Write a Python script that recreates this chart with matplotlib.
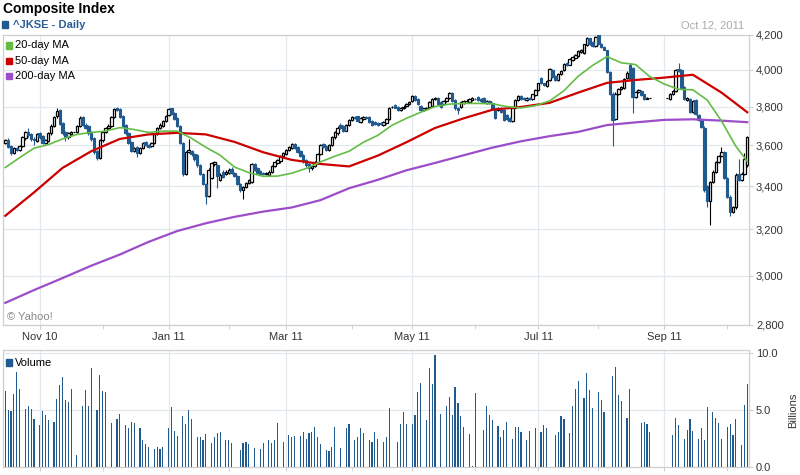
import numpy as np
import pandas as pd
import matplotlib
matplotlib.use('Agg')
import matplotlib.pyplot as plt
from matplotlib.ticker import FixedLocator, FuncFormatter, NullLocator

plt.rcParams['font.family'] = ['Liberation Sans', 'DejaVu Sans']

nan = float('nan')

# trading slots shown on the chart (Oct 14 2010 .. Oct 12 2011)
days = pd.bdate_range('2010-10-14', '2011-10-12')

opens = [
    3612, 3625, 3595, 3560, 3585, 3578, 3595, 3635, 3668, 3655,
    3630, 3622, 3660, 3645, 3612, 3620, 3660, 3700, 3748, 3780,
    3715, 3665, 3640, 3655, 3665, 3665, 3700, 3745, 3705, 3700,
    3665, 3635, 3570, 3535, 3625, 3665, 3690, 3700, 3745, 3790,
    3785, 3750, 3705, 3660, 3615, 3570, 3590, 3560, 3585, 3615,
    3600, 3595, 3610, 3655, 3690, 3700, 3725, 3755, 3790, 3765,
    3740, 3700, 3610, 3460, 3565, 3570, 3555, 3550, 3500, 3460,
    3410, 3355, 3440, 3505, 3500, 3430, 3470, 3460, 3465, 3483,
    3465, 3450, 3410, 3380, 3395, 3415, 3420, 3505, 3485, 3475,
    3465, 3460, 3455, 3470, 3495, 3510, 3520, 3545, 3555, 3575,
    3588, 3605, 3590, 3570, 3550, 3525, 3505, 3485, 3495, 3510,
    3555, 3605, 3595, 3575, 3600, 3640, 3660, 3705, 3700, 3675,
    3705, 3730, 3745, 3748, 3720, 3735, 3745, 3745, 3725, 3720,
    3715, 3715, 3705, 3715, 3735, 3798, 3810, 3800, 3780, 3790,
    3805, 3815, 3830, 3855, 3840, 3805, 3780, 3785, 3800, 3805,
    3840, 3845, 3825, 3815, 3830, 3845, 3875, 3835, 3795, 3800,
    3820, 3830, 3825, 3835, 3842, 3850, 3840, 3845, 3820, 3830,
    3820, 3790, 3780, 3795, 3780, 3755, 3740, 3725, 3795, 3835,
    3855, 3845, 3835, 3845, 3840, 3860, 3890, 3955, 3925, 3910,
    3945, 4000, 3965, 3945, 3975, 4000, 4040, 4030, 4055, 4065,
    4080, 4100, 4095, 4140, 4180, 4160, 4135, 4200, 4150, 4130,
    4110, 3990, 3870, 3735, 3870, 3895, 3900, 3955, 4030, 4010,
    3850, 3880, 3885, 3865, 3842, 3845, nan, nan, nan, nan,
    nan, 3845, 3842, 3868, 3885, 4005, 4000, 3905, 3835, 3840,
    3770, 3835, 3755, 3730, 3690, 3400, 3330, 3420, 3470, 3515,
    3545, 3565, 3440, 3350, 3280, 3300, 3460, 3430, 3460, 3500,
]
highs = [
    3632, 3635, 3600, 3592, 3592, 3600, 3648, 3672, 3690, 3660,
    3640, 3662, 3668, 3650, 3632, 3665, 3708, 3752, 3790, 3785,
    3720, 3670, 3668, 3672, 3668, 3705, 3748, 3752, 3712, 3705,
    3670, 3640, 3575, 3630, 3672, 3695, 3708, 3752, 3792, 3798,
    3790, 3755, 3710, 3665, 3620, 3592, 3595, 3590, 3618, 3622,
    3608, 3615, 3660, 3695, 3712, 3730, 3756, 3792, 3795, 3770,
    3745, 3705, 3615, 3572, 3630, 3578, 3560, 3556, 3505, 3465,
    3415, 3485, 3515, 3522, 3505, 3462, 3478, 3476, 3486, 3490,
    3470, 3455, 3415, 3400, 3420, 3436, 3510, 3512, 3490, 3480,
    3470, 3470, 3476, 3500, 3520, 3530, 3550, 3566, 3580, 3596,
    3612, 3610, 3596, 3575, 3555, 3530, 3510, 3500, 3520, 3560,
    3606, 3612, 3600, 3606, 3646, 3670, 3696, 3712, 3705, 3710,
    3736, 3750, 3752, 3752, 3745, 3750, 3750, 3750, 3730, 3725,
    3720, 3720, 3725, 3740, 3800, 3805, 3815, 3805, 3800, 3806,
    3820, 3830, 3860, 3862, 3845, 3810, 3795, 3800, 3830, 3845,
    3852, 3850, 3830, 3835, 3850, 3880, 3880, 3840, 3800, 3830,
    3835, 3838, 3845, 3850, 3848, 3855, 3845, 3850, 3835, 3836,
    3826, 3795, 3800, 3800, 3785, 3760, 3745, 3800, 3840, 3860,
    3860, 3850, 3850, 3850, 3870, 3895, 3930, 3962, 3930, 3945,
    4012, 4006, 3970, 3980, 4000, 4040, 4046, 4066, 4076, 4090,
    4110, 4116, 4150, 4186, 4185, 4166, 4196, 4210, 4156, 4135,
    4115, 3996, 3876, 3876, 3900, 3910, 3956, 3992, 4040, 4016,
    3886, 3896, 3890, 3870, 3850, 3845, nan, nan, nan, nan,
    nan, 3845, 3872, 3890, 4006, 4040, 4006, 3910, 3850, 3846,
    3836, 3840, 3760, 3735, 3696, 3405, 3426, 3476, 3520, 3550,
    3590, 3570, 3445, 3356, 3306, 3462, 3530, 3466, 3560, 3646,
]
lows = [
    3605, 3584, 3552, 3555, 3572, 3572, 3590, 3628, 3644, 3622,
    3600, 3616, 3634, 3606, 3606, 3614, 3654, 3694, 3742, 3702,
    3654, 3620, 3634, 3648, 3665, 3660, 3694, 3698, 3684, 3654,
    3624, 3558, 3525, 3530, 3618, 3660, 3684, 3694, 3740, 3774,
    3738, 3694, 3654, 3604, 3564, 3565, 3540, 3554, 3580, 3594,
    3584, 3590, 3604, 3650, 3684, 3695, 3720, 3750, 3754, 3728,
    3694, 3604, 3450, 3454, 3560, 3548, 3524, 3494, 3454, 3404,
    3318, 3350, 3434, 3498, 3390, 3424, 3440, 3454, 3460, 3460,
    3444, 3404, 3374, 3340, 3390, 3410, 3414, 3474, 3460, 3454,
    3455, 3455, 3450, 3465, 3490, 3505, 3514, 3540, 3550, 3570,
    3582, 3580, 3560, 3540, 3514, 3494, 3470, 3480, 3490, 3505,
    3550, 3584, 3570, 3570, 3594, 3634, 3654, 3684, 3668, 3670,
    3700, 3724, 3735, 3720, 3714, 3730, 3735, 3714, 3700, 3705,
    3700, 3702, 3700, 3710, 3730, 3792, 3790, 3774, 3775, 3785,
    3800, 3810, 3824, 3830, 3810, 3774, 3775, 3780, 3795, 3800,
    3835, 3810, 3795, 3810, 3825, 3840, 3824, 3784, 3760, 3795,
    3815, 3825, 3820, 3830, 3835, 3830, 3825, 3820, 3815, 3815,
    3780, 3734, 3775, 3765, 3724, 3730, 3718, 3720, 3790, 3830,
    3835, 3835, 3830, 3835, 3835, 3855, 3885, 3920, 3910, 3904,
    3940, 3954, 3940, 3940, 3970, 3995, 4024, 4025, 4050, 4060,
    4075, 4094, 4090, 4134, 4144, 4128, 4130, 4144, 4124, 4110,
    3984, 3864, 3595, 3728, 3864, 3890, 3894, 3948, 3944, 3765,
    3844, 3874, 3854, 3834, 3838, 3845, nan, nan, nan, nan,
    nan, 3845, 3836, 3862, 3880, 3990, 3894, 3834, 3830, 3764,
    3764, 3754, 3724, 3690, 3370, 3300, 3220, 3414, 3464, 3510,
    3540, 3434, 3344, 3262, 3274, 3294, 3424, 3424, 3454, 3494,
]
closes = [
    3625, 3590, 3560, 3585, 3578, 3595, 3640, 3665, 3650, 3630,
    3625, 3655, 3640, 3612, 3625, 3660, 3700, 3745, 3775, 3710,
    3660, 3640, 3660, 3665, 3665, 3700, 3740, 3705, 3690, 3660,
    3630, 3565, 3535, 3625, 3665, 3690, 3700, 3745, 3785, 3780,
    3745, 3700, 3660, 3610, 3570, 3585, 3560, 3585, 3610, 3600,
    3590, 3610, 3655, 3690, 3705, 3725, 3750, 3785, 3760, 3735,
    3700, 3610, 3460, 3565, 3575, 3555, 3530, 3500, 3460, 3410,
    3355, 3480, 3510, 3515, 3450, 3455, 3445, 3470, 3480, 3465,
    3450, 3410, 3380, 3395, 3415, 3430, 3505, 3480, 3465, 3460,
    3460, 3465, 3470, 3495, 3515, 3525, 3545, 3560, 3575, 3590,
    3605, 3585, 3565, 3545, 3520, 3500, 3485, 3495, 3515, 3555,
    3600, 3590, 3575, 3600, 3640, 3665, 3690, 3690, 3675, 3705,
    3730, 3745, 3740, 3725, 3740, 3745, 3740, 3720, 3705, 3710,
    3705, 3708, 3720, 3735, 3795, 3800, 3795, 3780, 3795, 3800,
    3815, 3825, 3855, 3835, 3815, 3780, 3790, 3795, 3825, 3840,
    3845, 3815, 3800, 3830, 3845, 3875, 3830, 3790, 3780, 3825,
    3830, 3832, 3840, 3845, 3840, 3835, 3830, 3825, 3830, 3820,
    3785, 3740, 3795, 3770, 3730, 3735, 3725, 3795, 3835, 3855,
    3840, 3840, 3845, 3840, 3865, 3890, 3925, 3925, 3915, 3940,
    4005, 3960, 3945, 3975, 3995, 4035, 4030, 4060, 4070, 4085,
    4105, 4110, 4145, 4180, 4150, 4135, 4190, 4150, 4130, 4115,
    3990, 3870, 3730, 3870, 3895, 3905, 3950, 3985, 3950, 3850,
    3880, 3890, 3860, 3840, 3845, 3845, nan, nan, nan, nan,
    nan, 3845, 3868, 3885, 4000, 3995, 3900, 3840, 3845, 3770,
    3830, 3760, 3730, 3695, 3380, 3330, 3420, 3470, 3515, 3545,
    3565, 3440, 3350, 3280, 3300, 3455, 3430, 3460, 3530, 3640,
]
# volume in billions (0 = no volume reported)
volume = [
    6.7, 5.0, 4.9, 6.4, 8.4, 6.9, 0, 5.1, 5.4, 5.1,
    4.2, 0, 3.7, 4.9, 4.6, 4.1, 0, 4.0, 6.0, 7.2,
    7.9, 5.9, 5.7, 6.9, 0, 1.1, 0, 5.4, 6.8, 5.4,
    8.7, 0, 5.0, 8.1, 6.7, 6.6, 0, 3.9, 0, 4.2,
    4.7, 0, 3.7, 3.4, 4.0, 3.9, 0, 3.4, 2.4, 2.0,
    1.8, 0, 1.6, 1.8, 1.6, 1.8, 0, 3.4, 5.3, 3.2,
    2.7, 0, 4.5, 3.8, 5.0, 4.2, 0, 2.6, 2.6, 2.4,
    2.9, 0, 2.1, 2.6, 3.0, 3.1, 0, 2.4, 2.4, 2.1,
    0, 0, 1.5, 2.1, 2.2, 2.0, 0, 1.7, 0, 1.6,
    2.1, 0, 2.4, 2.1, 2.4, 3.9, 0, 2.2, 0, 2.8,
    2.6, 2.7, 0, 2.7, 3.1, 2.5, 3.0, 3.1, 3.5, 2.6,
    2.0, 0, 1.5, 1.4, 1.8, 3.5, 0, 1.7, 0, 3.4,
    3.8, 0, 2.4, 2.6, 3.4, 3.0, 0, 2.4, 2.2, 3.1,
    2.5, 0, 2.2, 2.6, 5.2, 0, 0, 2.2, 3.8, 4.8,
    3.8, 0, 3.8, 4.6, 6.6, 7.4, 0, 4.1, 8.7, 7.3,
    9.9, 0, 4.7, 0, 5.4, 6.2, 4.6, 7.0, 5.6, 4.5,
    3.5, 0, 2.9, 0.1, 6.5, 0, 0, 3.3, 5.4, 4.6,
    4.1, 0, 3.6, 2.6, 3.3, 4.0, 0, 2.5, 3.5, 3.5,
    3.1, 0, 2.4, 3.2, 0, 3.4, 0, 3.1, 3.7, 3.4,
    0, 0, 2.8, 3.1, 4.5, 4.2, 0, 3.0, 5.4, 6.9,
    7.6, 0, 6.1, 8.3, 6.8, 5.2, 0, 6.6, 5.9, 4.8,
    0, 0, 8.0, 8.8, 6.3, 5.8, 0, 4.3, 6.9, 0,
    0, 0, 3.9, 4.0, 3.8, 3.1, 0, 0, 0, 0,
    0, 0, 0, 2.8, 4.3, 3.7, 0, 2.5, 3.3, 4.2,
    3.2, 0, 2.5, 3.4, 2.4, 5.3, 0, 4.8, 4.3, 3.9,
    2.5, 0, 3.5, 3.8, 2.8, 4.2, 0, 1.9, 5.5, 7.3,
]

# moving averages, read every 5th (20-day) / 10th (50, 200-day) session
ma20 = [
    3490, 3538, 3585, 3603, 3632, 3655, 3665, 3672, 3690, 3680,
    3665, 3672, 3672, 3635, 3590, 3550, 3492, 3465, 3447, 3448,
    3462, 3485, 3517, 3545, 3570, 3615, 3650, 3702, 3738, 3770,
    3800, 3813, 3817, 3817, 3815, 3800, 3793, 3805, 3830, 3885,
    3965, 4025, 4075, 4040, 4030, 3962, 3922, 3893, 3890, 3835,
    3724, 3595, 3520,
]
ma50 = [
    3262, 3370, 3488, 3570, 3632, 3655, 3663, 3655, 3617, 3565,
    3527, 3507, 3495, 3548, 3615, 3688, 3738, 3783, 3798, 3820,
    3875, 3928, 3944, 3957, 3973, 3875, 3770,
]
ma200 = [
    2888, 2940, 2990, 3042, 3090, 3145, 3193, 3228, 3257, 3281,
    3300, 3334, 3390, 3430, 3476, 3512, 3550, 3588, 3620, 3646,
    3668, 3703, 3717, 3730, 3733, 3726, 3718,
]

blue = '#215a8f'
green = '#63bd45'
red = '#cc0000'
purple = '#9b4dca'
grid_c = '#e3e8ef'
spine_c = '#cfcfcf'
txt_c = '#333333'

o = np.array(opens, float)
h = np.array(highs, float)
l = np.array(lows, float)
c = np.array(closes, float)
x = np.arange(len(c))
n = len(x)
last = n - 1

fig = plt.figure(figsize=(8, 4.75), dpi=100)
ax = fig.add_axes([3 / 800, 150 / 475, 746 / 800, 290 / 475])
axv = fig.add_axes([3 / 800, 8 / 475, 746 / 800, 117 / 475])

ok = ~np.isnan(c)
up = ok & (c >= o)
dn = ok & (c < o)
ax.vlines(x[up], l[up], h[up], color='black', lw=0.8, zorder=2)
ax.vlines(x[dn], l[dn], h[dn], color=blue, lw=0.8, zorder=2)
ax.bar(x[up], (c - o)[up], bottom=o[up], width=0.85, facecolor='white',
       edgecolor='black', lw=0.9, zorder=3)
ax.bar(x[dn], (o - c)[dn], bottom=c[dn], width=0.85, facecolor=blue,
       edgecolor=blue, lw=0.8, zorder=3)

x20 = np.r_[np.arange(0, 256, 5), last]
x50 = np.r_[np.arange(0, 251, 10), last]
ax.plot(x50, ma200, color=purple, lw=1.6, zorder=4)
ax.plot(x50, ma50, color=red, lw=1.6, zorder=4)
ax.plot(x20, ma20, color=green, lw=1.2, zorder=5)

ax.set_yscale('log')
ax.set_ylim(2800, 4200)
ax.set_xlim(-0.8, n - 0.4)
yt = list(range(2800, 4201, 200))
ax.yaxis.set_major_locator(FixedLocator(yt))
ax.yaxis.set_minor_locator(NullLocator())
ax.yaxis.set_major_formatter(FuncFormatter(lambda v, p: f'{v:,.0f}'))
ax.yaxis.set_minor_formatter(FuncFormatter(lambda v, p: ''))
ax.yaxis.tick_right()

# month ticks
months = days.to_period('M')
starts = [i for i in range(1, len(days)) if months[i] != months[i - 1]]
major = [i for i in starts if days[i].month % 2 == 1]
minor = [i for i in starts if days[i].month % 2 == 0]
for a in (ax, axv):
    a.xaxis.set_major_locator(FixedLocator(major))
    a.xaxis.set_minor_locator(FixedLocator(minor))
    a.grid(True, which='major', color=grid_c, lw=0.9, zorder=0)
    a.set_axisbelow(True)
    for s in a.spines.values():
        s.set_color(spine_c)
        s.set_linewidth(0.9)
    a.tick_params(which='both', length=3, color=spine_c, labelsize=8,
                  labelcolor=txt_c, pad=2)
ax.set_xticklabels([days[i].strftime('%b %y') for i in major])
axv.set_xticklabels([])

axv.bar(x, volume, width=0.4, color=blue, zorder=3)
axv.set_xlim(-0.8, n - 0.4)
axv.set_ylim(0, 10.3)
axv.yaxis.set_major_locator(FixedLocator([0, 5, 10]))
axv.yaxis.set_major_formatter(FuncFormatter(lambda v, p: f'{v:.1f}'))
axv.yaxis.tick_right()

def px(xp, yp):
    return xp / 800, 1 - yp / 475

fig.text(*px(3, 12.5), 'Composite Index', fontsize=10, fontweight='bold',
         color='black', va='baseline')
fig.patches.append(plt.Rectangle(px(2, 27.5), 6 / 800, 7 / 475, color=blue,
                                 transform=fig.transFigure, figure=fig))
fig.text(*px(13, 27.5), '^JKSE - Daily', fontsize=8, fontweight='bold',
         color='#2a5d96', va='baseline')
fig.text(*px(744, 28), 'Oct 12, 2011', fontsize=8, color='#aaaaaa',
         ha='right', va='baseline')

for k, (lab, col) in enumerate([('20-day MA', green), ('50-day MA', red),
                                ('200-day MA', purple)]):
    yb = 48.5 + 15.3 * k
    fig.patches.append(plt.Rectangle(px(6, yb), 6 / 800, 6 / 475, color=col,
                                     transform=fig.transFigure, figure=fig))
    fig.text(*px(15, yb), lab, fontsize=8, color='black', va='baseline')

fig.text(*px(7, 320), '\u00a9 Yahoo!', fontsize=8, color='#888888',
         va='baseline')
fig.patches.append(plt.Rectangle(px(6, 366), 6 / 800, 7 / 475, color=blue,
                                 transform=fig.transFigure, figure=fig))
fig.text(*px(15, 366), 'Volume', fontsize=8, color='black', va='baseline')
fig.text(*px(793, 410), 'Billions', fontsize=8, color=txt_c, rotation=90,
         ha='center', va='center')

fig.savefig('out.png', dpi=100)
